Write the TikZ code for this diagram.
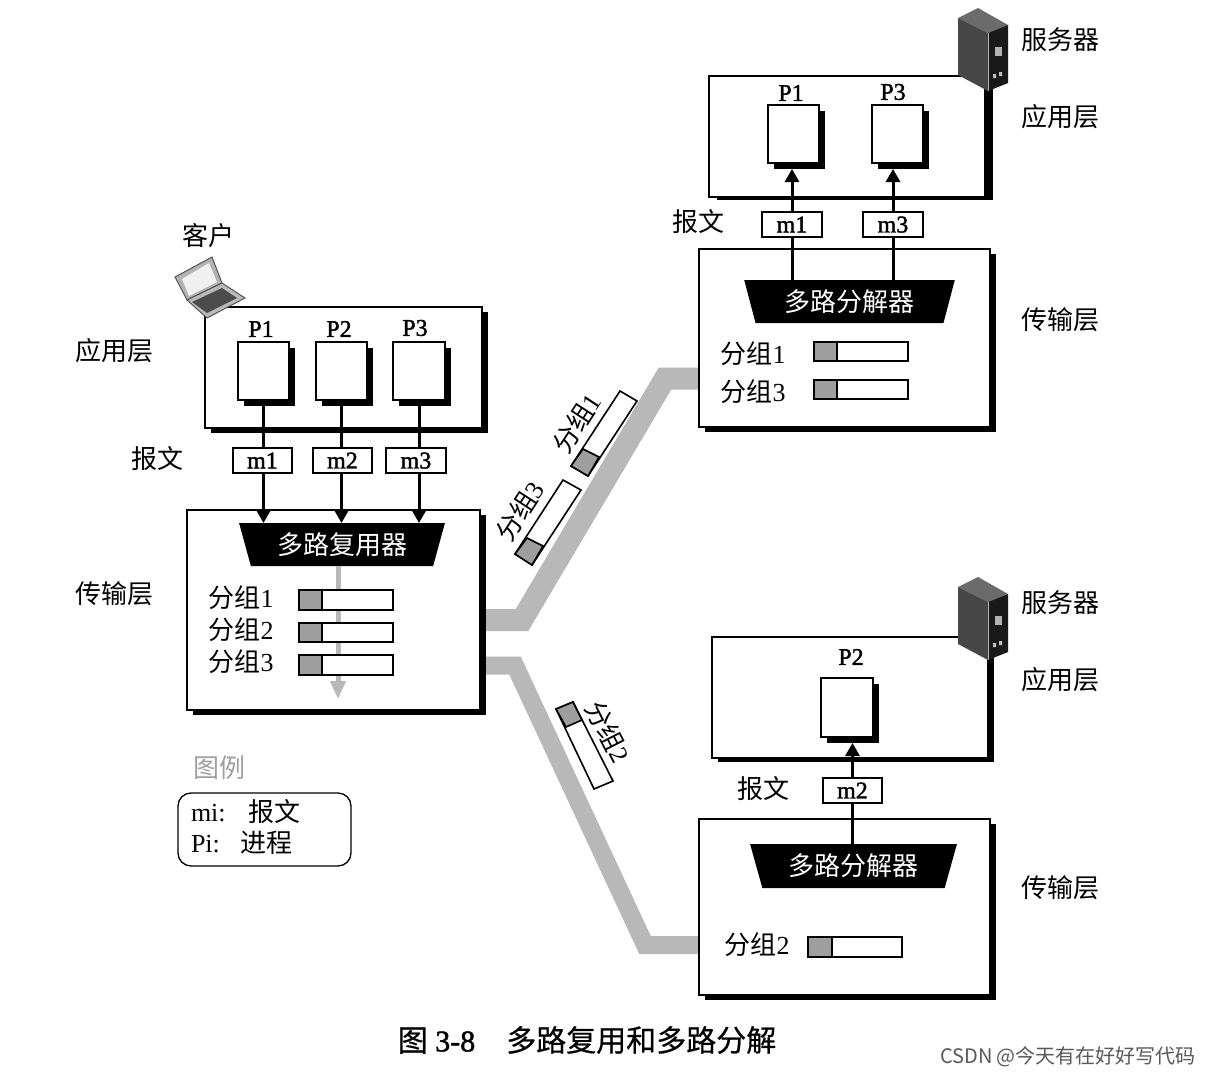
\documentclass[tikz,border=0pt]{standalone}
\usepackage{fontspec}
\setmainfont{Liberation Serif}
\newfontfamily\semib[FakeBold=1.6]{Liberation Serif}
\newfontfamily\zh{Noto Sans CJK SC}
\newfontfamily\zhb[FakeBold=0.6]{Noto Sans CJK SC}
\usetikzlibrary{arrows.meta,shapes.geometric,shadows}
\definecolor{headgray}{gray}{0.62}
\definecolor{linkgray}{gray}{0.72}
\newcommand\fsz[1]{\fontsize{#1}{#1}\selectfont}
% \bx[style]{name}{x1}{y1}{x2}{y2}{text}
\newcommand\bx[7][]{\node[#1,minimum width={(#5-#3)*1pt},minimum height={(#6-#4)*1pt}] (#2) at ({(#3+#5)/2},{(#4+#6)/2}) {#7};}
% \lbl{name}{x}{y}{text}
\newcommand\lbl[4]{\node[cnlabel] (#1) at (#2,#3) {\zh #4};}
% \pkt{name}{x1}{y1}{x2}{y2}{xhead}
\newcommand\pkt[6]{\bx[pktbody]{#1}{#2}{#3}{#4}{#5}{}
 \bx[pkthead]{#1h}{#2}{#3}{#6}{#5}{}}
\newcommand\demux[7]{\node[muxshape,minimum width={(#4-#3)*1pt},minimum height={(#6-#2)*1pt},trapezium angle={atan((#6-#2)/#5)}] (#1) at ({(#3+#4)/2},{(#2+#6)/2}) {\zh #7};}
\newcommand\server[2]{\begin{scope}[shift={(#1,#2)}]
 \fill[black!58] (958,18) -- (978,8) -- (1008,25) -- (988,33) -- cycle;
 \fill[black!72] (958,18) -- (988,33) -- (988,91) -- (958,75) -- cycle;
 \fill[black!90] (988,33) -- (1008,25) -- (1008,83) -- (988,91) -- cycle;
 \draw[white!70!black,line width=0.8pt] (988,33) -- (988,91);
 \fill[gray!60] (995,47) rectangle (1002,56);
 \fill[gray!50] (993,74) rectangle (996,78) (999,72) rectangle (1002,76);
 \end{scope}}
\tikzset{
 plain/.style={draw=black,line width=1.8pt,fill=white,inner sep=0pt,outer sep=0pt},
 bigbox/.style={plain,general shadow={fill=black,shadow xshift=6pt,shadow yshift=-5pt}},
 procbox/.style={plain,general shadow={fill=black,shadow xshift=6pt,shadow yshift=-6pt}},
 msgbox/.style={plain,line width=1.3pt,font=\semib\fsz{24},text depth=0pt},
 pktbody/.style={plain,line width=1.6pt},
 pkthead/.style={plain,line width=1.6pt,fill=headgray},
 muxshape/.style={trapezium,shape border rotate=180,trapezium stretches=true,fill=black,text=white,inner sep=0pt,outer sep=0pt,font=\fsz{26}},
 cnlabel/.style={inner sep=0pt,outer sep=0pt,font=\fsz{26}},
 plabel/.style={inner sep=0pt,outer sep=0pt,font=\semib\fsz{24}},
 msgline/.style={line width=3pt,draw=black},
 msgarrow/.style={msgline,-{Triangle[width=14pt,length=13pt]}},
 wire/.style={draw=linkgray,line join=miter},
 slant/.style={draw=black,line width=1.6pt,fill=white,line join=miter},
 slanthead/.style={draw=black,line width=1.6pt,fill=headgray,line join=miter},
}
\begin{document}
\begin{tikzpicture}[x=1pt,y=-1pt]
\useasboundingbox (0,0) rectangle (1208,1076);
\fill[white] (0,0) rectangle (1208,1076);

% free ends of the shared links
\coordinate (lt1) at (484,620);
\coordinate (lt2) at (522,620);
\coordinate (lt3) at (665,378.5);
\coordinate (lt4) at (700,378.5);
\coordinate (lb1) at (484,665.5);
\coordinate (lb2) at (515,665.5);
\coordinate (lb3) at (645,945);
\coordinate (lb4) at (700,945);
\draw[wire,line width=22pt] (lt1) -- (lt2) -- (lt3) -- (lt4);
\draw[wire,line width=18pt] (lb1) -- (lb2) -- (lb3) -- (lb4);

% ---- client
\bx[bigbox]{capp}{205}{307}{482}{428}{}
\bx[procbox]{cp1}{238}{342}{289}{400}{}
\bx[procbox]{cp2}{316}{342}{367}{400}{}
\bx[procbox]{cp3}{393}{342}{445}{400}{}
\node[plabel] (lcp1) at (261,329) {P1};
\node[plabel] (lcp2) at (339,329) {P2};
\node[plabel] (lcp3) at (415,328) {P3};
\bx[bigbox]{ctr}{187}{510}{480}{710}{}
\demux{cmux}{523}{239}{445}{15}{566}{多路复用器}
\draw[draw=linkgray,line width=5pt,-{Triangle[width=15pt,length=18pt]}] (cmux.south -| 338,0) -- (338,699);
\bx[msgbox]{cm1}{233}{448}{292}{473}{m1}
\bx[msgbox]{cm2}{313}{448}{372}{473}{m2}
\bx[msgbox]{cm3}{386}{448}{446}{473}{m3}
\draw[msgline] (cp1.south) -- (cm1.north -| cp1.south);
\draw[msgline] (cp2.south) -- (cm2.north -| cp2.south);
\draw[msgline] (cp3.south) -- (cm3.north -| cp3.south);
\draw[msgarrow] (cm1.south -| cp1.south) -- (cmux.north -| cp1.south);
\draw[msgarrow] (cm2.south -| cp2.south) -- (cmux.north -| cp2.south);
\draw[msgarrow] (cm3.south -| cp3.south) -- (cmux.north -| cp3.south);
\pkt{cq1}{299}{590}{393}{610}{322}
\pkt{cq2}{299}{623}{393}{642}{322}
\pkt{cq3}{299}{655}{393}{675}{322}
\lbl{lcq1}{241}{598}{分组\rmfamily 1}
\lbl{lcq2}{241}{630}{分组\rmfamily 2}
\lbl{lcq3}{241}{662}{分组\rmfamily 3}
\lbl{lclient}{208}{236}{客户}
\lbl{lcapp}{114}{351}{应用层}
\lbl{lcmsg}{157}{459}{报文}
\lbl{lctr}{114}{594}{传输层}
% laptop
\fill[gray!60,draw=gray!60!black,line width=0.9pt] (175,277) -- (212,257) -- (222,283) -- (187,300) -- cycle;
\fill[gray!12] (182,279) -- (209,263) -- (217,282) -- (189,296) -- cycle;
\fill[gray!55,draw=gray!60!black,line width=0.9pt] (187,300) -- (222,283) -- (245,298) -- (207,318) -- cycle;
\fill[black!70] (192,302) -- (222,288) -- (237,298) -- (207,313) -- cycle;

% ---- server A
\bx[plain,general shadow={fill=black,shadow xshift=8pt,shadow yshift=-3pt}]{aapp}{709}{76}{985}{197}{}
\server{0}{0}
\bx[procbox]{ap1}{768}{105}{819}{163}{}
\bx[procbox]{ap3}{872}{105}{923}{163}{}
\node[plabel] (lap1) at (791,93) {P1};
\node[plabel] (lap3) at (893,92) {P3};
\bx[bigbox]{atr}{699}{249}{990}{427}{}
\demux{amux}{280}{744}{955}{14}{323}{多路分解器}
\bx[msgbox]{am1}{762}{212}{822}{237}{m1}
\bx[msgbox]{am3}{863}{212}{923}{237}{m3}
\draw[msgline] (amux.north -| am1) -- (am1.south);
\draw[msgline] (amux.north -| am3) -- (am3.south);
\draw[msgarrow,shorten >=6pt] (am1.north) -- (ap1.south -| am1);
\draw[msgarrow,shorten >=6pt] (am3.north) -- (ap3.south -| am3);
\pkt{aq1}{814}{342}{908}{361}{837}
\pkt{aq3}{814}{380}{908}{399}{837}
\lbl{laq1}{753}{354}{分组\rmfamily 1}
\lbl{laq3}{753}{392}{分组\rmfamily 3}
\lbl{las}{1060}{40}{服务器}
\lbl{laapp}{1060}{117}{应用层}
\lbl{lamsg}{698}{222}{报文}
\lbl{latr}{1060}{320}{传输层}

% ---- server B
\bx[plain,general shadow={fill=black,shadow xshift=6pt,shadow yshift=-4pt}]{bapp}{712}{637}{988}{758}{}
\server{0}{569}
\bx[procbox]{bp2}{821}{678}{873}{737}{}
\node[plabel] (lbp2) at (851,657) {P2};
\bx[bigbox]{btr}{699}{819}{990}{995}{}
\demux{bmux}{844}{750}{957}{16}{888}{多路分解器}
\bx[msgbox]{bm2}{823}{778}{882}{803}{m2}
\draw[msgline] (bmux.north -| bm2) -- (bm2.south);
\draw[msgarrow,shorten >=6pt] (bm2.north) -- (bp2.south -| bm2);
\pkt{bq2}{808}{937}{902}{957}{832}
\lbl{lbq2}{757}{945}{分组\rmfamily 2}
\lbl{lbs}{1060}{603}{服务器}
\lbl{lbapp}{1060}{680}{应用层}
\lbl{lbmsg}{763}{789}{报文}
\lbl{lbtr}{1060}{888}{传输层}

% ---- packets on the links
\draw[slant] (620,391) -- (637,401) -- (588,476) -- (571,466) -- cycle;
\draw[slanthead] (583,449) -- (599,457) -- (588,476) -- (571,466) -- cycle;
\draw[slant] (563,480) -- (581,490) -- (532,565) -- (515,554) -- cycle;
\draw[slanthead] (527,538) -- (543,546) -- (532,565) -- (515,554) -- cycle;
\draw[slant] (556,709) -- (573,702) -- (613,781) -- (594,789) -- cycle;
\draw[slanthead] (556,709) -- (573,702) -- (582,720) -- (566,727) -- cycle;
\node[cnlabel,rotate=57] (lw1) at (577,423) {\zh 分组\rmfamily 1};
\node[cnlabel,rotate=57] (lw3) at (520,511) {\zh 分组\rmfamily 3};
\node[cnlabel,rotate=-63] (lw2) at (608,732) {\zh 分组\rmfamily 2};

% ---- legend
\node[cnlabel,text=gray!75] (llegend) at (219,768) {\zh 图例};
\bx[draw=black,line width=1.3pt,rounded corners=13pt,inner sep=0pt,outer sep=0pt]{legend}{178}{793}{351}{866}{}
\node[cnlabel,anchor=west,font=\fsz{26}] (lmi) at (191,812) {mi:\hspace{23pt}{\zh 报文}};
\node[cnlabel,anchor=west,font=\fsz{26}] (lpi) at (191,843) {Pi:\hspace{21pt}{\zh 进程}};

% ---- caption
\node[cnlabel,font=\fsz{30}] (caption) at (587,1040) {{\zhb 图} {\semib 3-8}\hspace{31pt}{\zhb 多路复用和多路分解}};
\node[cnlabel,font=\fsz{20},text=gray!70!black] (mark) at (1068,1057) {\zh CSDN @今天有在好好写代码};
\end{tikzpicture}
\end{document}
